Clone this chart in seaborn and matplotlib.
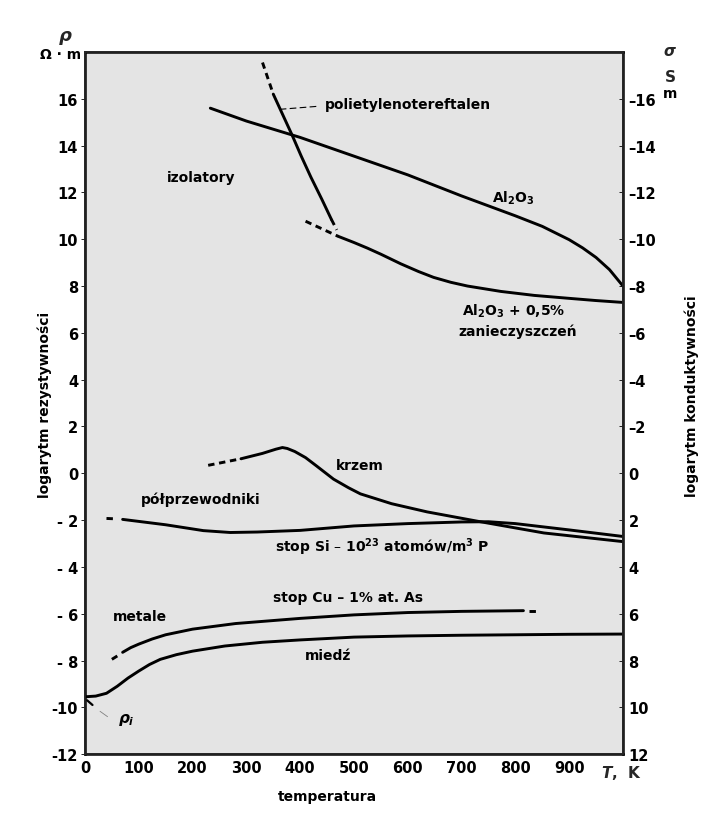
import numpy as np
import pandas as pd
import matplotlib
matplotlib.use("Agg")
import matplotlib.pyplot as plt
import seaborn as sns

# curves: temperature T [K], log10 of resistivity [Ohm m]
al2o3_T = [233, 300, 400, 500, 600, 700, 800, 850, 900, 925, 950, 975, 1000]
al2o3_r = [15.6, 15.05, 14.35, 13.55, 12.75, 11.85, 11.0, 10.55, 9.98, 9.63, 9.22, 8.7, 8.0]

pet_T = [350, 368, 385, 402, 420, 440, 458]
pet_r = [16.2, 15.3, 14.45, 13.55, 12.65, 11.72, 10.85]
pet_dash1_T = [330, 350]
pet_dash1_r = [17.55, 16.2]
pet_dash2_T = [458, 468]
pet_dash2_r = [10.85, 10.4]

al2o3_imp_T = [470, 500, 525, 550, 587, 620, 648, 680, 711, 773, 835, 897, 950, 1000]
al2o3_imp_r = [10.13, 9.86, 9.62, 9.36, 8.95, 8.62, 8.37, 8.16, 8.0, 7.77, 7.6, 7.48, 7.38, 7.3]
al2o3_imp_dash_T = [410, 470]
al2o3_imp_dash_r = [10.77, 10.13]

si_T = [290, 330, 355, 367, 376, 390, 410, 430, 462, 490, 512, 570, 636, 730, 853, 1000]
si_r = [0.62, 0.85, 1.03, 1.1, 1.06, 0.93, 0.67, 0.32, -0.25, -0.62, -0.88, -1.3, -1.65,
        -2.05, -2.55, -2.92]
si_dash_T = [229, 290]
si_dash_r = [0.34, 0.62]

si_p_T = [70, 150, 220, 270, 320, 400, 500, 600, 700, 750, 800, 900, 1000]
si_p_r = [-1.97, -2.2, -2.45, -2.53, -2.51, -2.44, -2.25, -2.15, -2.08, -2.07, -2.15, -2.42, -2.7]
si_p_dash_T = [40, 60]
si_p_dash_r = [-1.93, -1.95]

cu_as_T = [70, 85, 100, 125, 150, 200, 280, 400, 500, 600, 700, 815]
cu_as_r = [-7.65, -7.45, -7.3, -7.08, -6.9, -6.66, -6.42, -6.2, -6.05, -5.95, -5.9, -5.87]
cu_as_dash1_T = [50, 66]
cu_as_dash1_r = [-7.95, -7.72]
cu_as_dash2_T = [825, 840]
cu_as_dash2_r = [-5.87, -5.87]

cu_T = [0, 20, 40, 60, 80, 100, 120, 140, 170, 200, 260, 330, 400, 500, 600, 700, 800, 900, 1000]
cu_r = [-9.55, -9.52, -9.4, -9.1, -8.75, -8.45, -8.17, -7.95, -7.75, -7.6, -7.38, -7.22,
        -7.12, -7.0, -6.95, -6.92, -6.9, -6.88, -6.87]

x_ticks = [0, 100, 200, 300, 400, 500, 600, 700, 800, 900]
left_ticks = [-12, -10, -8, -6, -4, -2, 0, 2, 4, 6, 8, 10, 12, 14, 16]
left_labels = ["-12", "-10", "- 8", "- 6", "- 4", "- 2", "0", "2", "4", "6", "8",
               "10", "12", "14", "16"]
right_ticks = [-16, -14, -12, -10, -8, -6, -4, -2, 0, 2, 4, 6, 8, 10, 12]

sns.set_theme(style="white")
plt.rcParams['font.family'] = ['DejaVu Sans']
plt.rcParams['font.weight'] = 'bold'

fig = plt.figure(figsize=(7.14, 8.28), dpi=100)
ax = fig.add_axes([0.119, 0.088, 0.7535, 0.848])
ax.set_facecolor("#e4e4e4")

lw = 2.1
solid = [(al2o3_T, al2o3_r), (pet_T, pet_r), (al2o3_imp_T, al2o3_imp_r), (si_T, si_r),
         (si_p_T, si_p_r), (cu_as_T, cu_as_r), (cu_T, cu_r)]
dashed = [(pet_dash1_T, pet_dash1_r), (pet_dash2_T, pet_dash2_r),
          (al2o3_imp_dash_T, al2o3_imp_dash_r), (si_dash_T, si_dash_r),
          (si_p_dash_T, si_p_dash_r), (cu_as_dash1_T, cu_as_dash1_r),
          (cu_as_dash2_T, cu_as_dash2_r)]
for t, r in solid:
    sns.lineplot(x=t, y=r, ax=ax, color="black", lw=lw, sort=False, estimator=None)
for t, r in dashed:
    sns.lineplot(x=t, y=r, ax=ax, color="black", lw=lw, sort=False, estimator=None,
                 linestyle=(0, (2.2, 1.6)))

# leader lines
ax.plot([362, 433], [15.55, 15.68], color="black", lw=0.8, ls=(0, (6, 3)))
ax.plot([4, 14], [-9.7, -9.9], color="black", lw=1.6)
ax.plot([28, 42], [-10.17, -10.4], color="gray", lw=0.6)

ax.set_xlim(0, 1000)
ax.set_ylim(-12, 18)
ax.set_xticks(x_ticks)
ax.set_xticklabels([str(v) for v in x_ticks])
ax.set_yticks(left_ticks, labels=left_labels)
ax.set_xlabel("")
ax.set_ylabel("")
ax.tick_params(axis="x", direction="in", length=8, width=1.4, labelsize=10.5, pad=4,
               colors="black")
ax.tick_params(axis="y", direction="out", length=3, width=0.6, labelsize=10.5, pad=2,
               colors="black")
for s in ax.spines.values():
    s.set_color("black")
    s.set_linewidth(1.8)

ax2 = ax.twinx()
ax2.set_ylim(12, -18)
ax2.set_yticks(right_ticks, labels=[("–%d" % -v) if v < 0 else str(v) for v in right_ticks])
ax2.tick_params(axis="y", direction="in", length=3, width=0.6, labelsize=10.5, pad=4,
                colors="black")
ax2.grid(False)

tk = dict(fontsize=10, fontweight="bold", color="black")
ax.text(216, 12.65, "izolatory", ha="center", va="center", **tk)
ax.text(446, 15.77, "polietylenotereftalen", ha="left", va="center", **tk)
ax.text(796, 11.8, "Al$_\\mathbf{2}$O$_\\mathbf{3}$", ha="center", va="center", **tk)
ax.text(797, 6.95, "Al$_\\mathbf{2}$O$_\\mathbf{3}$ + 0,5%", ha="center", va="center", **tk)
ax.text(805, 6.1, "zanieczyszczeń", ha="center", va="center", **tk)
ax.text(511, 0.34, "krzem", ha="center", va="center", **tk)
ax.text(216, -1.1, "półprzewodniki", ha="center", va="center", **tk)
ax.text(353, -3.1, "stop Si – 10$^{\\mathbf{23}}$ atomów/m$^\\mathbf{3}$ P", ha="left",
        va="center", **tk)
ax.text(349, -5.3, "stop Cu – 1% at. As", ha="left", va="center", **tk)
ax.text(102, -6.1, "metale", ha="center", va="center", **tk)
ax.text(452, -7.78, "miedź", ha="center", va="center", **tk)
ax.text(76, -10.5, "$\\rho_i$", ha="center", va="center", fontsize=11, color="black")

fig.text(65 / 714, 1 - 38 / 828, "$\\rho$", ha="center", va="center", fontsize=13)
fig.text(61 / 714, 1 - 55 / 828, "Ω · m", ha="center", va="center", **tk)
fig.text(670 / 714, 1 - 52 / 828, "$\\sigma$", ha="center", va="center", fontsize=11)
fig.text(670 / 714, 1 - 77 / 828, "S", ha="center", va="center", fontsize=11, fontweight="bold")
fig.text(670 / 714, 1 - 94 / 828, "m", ha="center", va="center", **tk)
fig.text(622 / 714, 1 - 773 / 828, "$T$,  K", ha="center", va="center", fontsize=11,
         fontweight="bold")
fig.text(327 / 714, 1 - 797 / 828, "temperatura", ha="center", va="center", **tk)
fig.text(45 / 714, 1 - 405 / 828, "logarytm rezystywności", rotation=90, ha="center",
         va="center", **tk)
fig.text(692 / 714, 1 - 396 / 828, "logarytm konduktywności", rotation=90, ha="center",
         va="center", **tk)

fig.savefig("out.png", dpi=100)
